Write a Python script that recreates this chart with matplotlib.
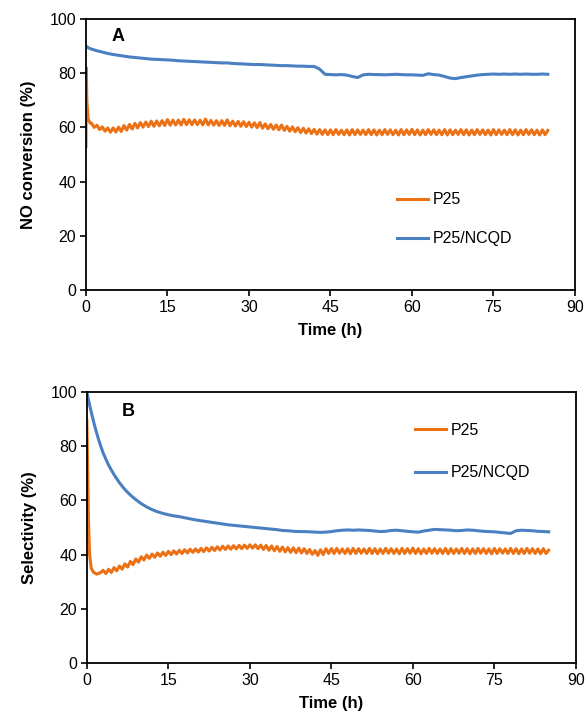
import matplotlib.pyplot as plt
import numpy as np

plt.rcParams['font.family'] = ['Liberation Sans', 'DejaVu Sans']

# 色
c_p25 = '#EC7014'
c_ncqd = '#4A7FC1'

# --- (A) NO conversion ---
# P25: start-up spike, then 0.5 h samples from t = 1 h
a_p25_head_t = [0, 0.05, 0.15, 0.4, 0.8]
a_p25_head_v = [53, 82, 70, 63, 61.5]
a_p25_body_t0 = 1.0
a_p25_body = [
    61.6, 60.0, 60.8, 59.2, 60.2, 58.6, 59.8, 58.2, 59.8, 58.3,
    60.1, 58.5, 60.7, 59.0, 61.1, 59.4, 61.5, 59.8, 61.8, 60.1,
    62.0, 60.3, 62.3, 60.4, 62.4, 60.6, 62.5, 60.7, 62.9, 60.8,
    62.7, 60.9, 62.7, 60.9, 63.0, 61.0, 62.8, 61.0, 62.8, 61.0,
    62.7, 60.9, 63.1, 60.9, 62.6, 60.8, 62.5, 60.7, 62.5, 60.7,
    62.8, 60.6, 62.3, 60.5, 62.2, 60.4, 62.1, 60.3, 61.9, 60.1,
    61.7, 59.9, 61.8, 59.7, 61.3, 59.5, 61.1, 59.3, 60.9, 59.1,
    60.9, 58.9, 60.4, 58.6, 60.2, 58.4, 59.9, 58.1, 59.7, 57.9,
    59.5, 57.7, 59.3, 57.5, 59.2, 57.4, 59.1, 57.3,
    59.1, 57.3, 59.2, 57.4, 59.0, 57.3, 59.1, 57.2, 59.2, 57.3,
    59.1, 57.4, 59.0, 57.3, 59.2, 57.3, 59.1, 57.2, 59.0, 57.3,
    59.2, 57.4, 59.1, 57.3, 59.0, 57.2, 59.2, 57.3, 59.1, 57.4,
    59.3, 57.3, 59.1, 57.2, 59.0, 57.3, 59.2, 57.4, 59.1, 57.3,
    59.0, 57.3, 59.2, 57.2, 59.1, 57.3, 59.0, 57.4, 59.2, 57.3,
    59.1, 57.2, 59.0, 57.3, 59.2, 57.4, 59.1, 57.3, 59.0, 57.2,
    59.2, 57.3, 59.1, 57.4, 59.0, 57.3, 59.2, 57.3, 59.1, 57.2,
    59.0, 57.3, 59.2, 57.4, 59.1, 57.3, 59.0, 57.2, 59.1, 57.3,
    58.9,
]

# P25/NCQD: hourly
a_ncqd_head_t = [0, 0.5]
a_ncqd_head_v = [90.0, 89.3]
a_ncqd_body_t0 = 1.0
a_ncqd_body = [
    88.9, 88.3, 87.8, 87.3, 86.9, 86.6, 86.3, 86.0, 85.8, 85.6,
    85.4, 85.2, 85.1, 85.0, 84.9, 84.8, 84.6, 84.5, 84.4, 84.3,
    84.2, 84.1, 84.0, 83.9, 83.8, 83.8, 83.6, 83.5, 83.4, 83.3,
    83.2, 83.2, 83.1, 83.0, 82.9, 82.8, 82.8, 82.7, 82.6, 82.6,
    82.5, 82.5, 81.5, 79.6, 79.5, 79.4, 79.5, 79.3, 78.8, 78.4,
    79.4, 79.6, 79.5, 79.5, 79.4, 79.5, 79.6, 79.5, 79.4, 79.4,
    79.3, 79.2, 79.8, 79.5, 79.3, 78.8, 78.2, 78.0, 78.4, 78.7,
    79.0, 79.3, 79.5, 79.6, 79.7, 79.6, 79.7, 79.6, 79.7, 79.6,
    79.7, 79.6, 79.6, 79.7, 79.6,
]

# --- (B) Selectivity ---
b_p25_head_t = [0, 0.15, 0.3, 0.5, 0.8, 1.2, 1.8, 2.5]
b_p25_head_v = [89.5, 70, 52, 40, 35, 33.5, 32.8, 33.3]
b_p25_body_t0 = 3.0
b_p25_body = [
    34.2, 33.0, 34.6, 33.4, 35.2, 34.0, 35.8, 34.6, 36.6, 35.4,
    37.5, 36.3, 38.4, 37.2, 39.2, 38.0, 39.8, 38.6, 40.2, 39.0,
    40.6, 39.4, 40.9, 39.7, 41.2, 40.0, 41.4, 40.2, 41.6, 40.4,
    41.8, 40.6, 42.0, 40.8, 42.1, 40.9, 42.3, 41.1, 42.5, 41.3,
    42.7, 41.5, 42.9, 41.7, 43.1, 41.9, 43.2, 42.0, 43.3, 42.1,
    43.4, 42.2, 43.5, 42.3, 43.6, 42.4, 43.6, 42.2, 43.5, 41.9,
    43.4, 41.6, 43.2, 41.4, 43.0, 41.2, 42.8, 41.0, 42.6, 40.8,
    42.5, 40.7, 42.4, 40.6, 42.2, 40.4, 41.9, 40.1, 41.5, 39.7,
    41.8, 40.0, 42.2, 40.4,
    42.2, 40.4, 42.3, 40.5, 42.1, 40.4, 42.2, 40.3, 42.3, 40.4,
    42.2, 40.5, 42.1, 40.4, 42.3, 40.4, 42.2, 40.3, 42.1, 40.4,
    42.3, 40.5, 42.2, 40.4, 42.1, 40.3, 42.3, 40.4, 42.2, 40.5,
    42.4, 40.4, 42.2, 40.3, 42.1, 40.4, 42.3, 40.5, 42.2, 40.4,
    42.1, 40.4, 42.3, 40.3, 42.2, 40.4, 42.1, 40.5, 42.3, 40.4,
    42.2, 40.3, 42.1, 40.4, 42.3, 40.5, 42.2, 40.4, 42.1, 40.3,
    42.3, 40.4, 42.2, 40.5, 42.1, 40.4, 42.3, 40.4, 42.2, 40.3,
    42.1, 40.4, 42.3, 40.5, 42.2, 40.4, 42.1, 40.3, 42.2, 40.4,
    41.6,
]

b_ncqd_head_t = [0, 0.3, 0.7, 1.0, 1.5, 2.0, 2.5, 3.0, 3.5]
b_ncqd_head_v = [100, 97, 93.5, 91, 87, 83.5, 80.3, 77.5, 75.2]
b_ncqd_body_t0 = 4.0
b_ncqd_body = [
    73.0, 69.5, 66.5, 64.0, 62.0, 60.3, 58.8, 57.6, 56.6, 55.8,
    55.2, 54.7, 54.3, 54.0, 53.6, 53.2, 52.8, 52.5, 52.2, 51.9,
    51.6, 51.3, 51.0, 50.8, 50.6, 50.4, 50.2, 50.0, 49.8, 49.6,
    49.4, 49.2, 48.9, 48.8, 48.6, 48.5, 48.5, 48.4, 48.3, 48.2,
    48.3, 48.5, 48.8, 49.0, 49.1, 49.0, 49.1, 49.0, 48.9, 48.7,
    48.5, 48.6, 48.9, 49.0, 48.8, 48.6, 48.4, 48.3, 48.7, 49.0,
    49.3, 49.2, 49.1, 49.0, 48.8, 48.9, 49.1, 49.0, 48.8, 48.6,
    48.5, 48.4, 48.2, 48.0, 47.8, 48.8, 49.0, 48.9, 48.8, 48.6,
    48.5, 48.4,
]

labels = ['P25', 'P25/NCQD']
x_ticks = [0, 15, 30, 45, 60, 75, 90]
y_ticks = [0, 20, 40, 60, 80, 100]


def series(head_t, head_v, t0, body, step):
    t = list(head_t) + list(t0 + step * np.arange(len(body)))
    return t, list(head_v) + list(body)


fig = plt.figure(figsize=(5.87, 7.23), dpi=100)
ax1 = fig.add_axes([0.1465, 0.5989, 0.833, 0.3748])
ax2 = fig.add_axes([0.148, 0.083, 0.833, 0.3748])

panels = [
    (ax1, 'A', 'NO conversion (%)',
     series(a_p25_head_t, a_p25_head_v, a_p25_body_t0, a_p25_body, 0.5),
     series(a_ncqd_head_t, a_ncqd_head_v, a_ncqd_body_t0, a_ncqd_body, 1.0),
     (5.9, 93.7), (0.62, 0.39), 1.5),
    (ax2, 'B', 'Selectivity (%)',
     series(b_p25_head_t, b_p25_head_v, b_p25_body_t0, b_p25_body, 0.5),
     series(b_ncqd_head_t, b_ncqd_head_v, b_ncqd_body_t0, b_ncqd_body, 1.0),
     (7.6, 92.7), (0.654, 0.915), 1.7),
]

for ax, tag, ylab, p25, ncqd, tag_pos, leg_pos, lsp in panels:
    ax.plot(p25[0], p25[1], color=c_p25, lw=2.2, label=labels[0])
    ax.plot(ncqd[0], ncqd[1], color=c_ncqd, lw=2.2, label=labels[1])
    ax.set_xlim(0, 90)
    ax.set_ylim(0, 100)
    ax.set_xticks(x_ticks)
    ax.set_yticks(y_ticks)
    ax.tick_params(direction='out', length=4, width=1.2, labelsize=11.5, pad=3)
    for s in ax.spines.values():
        s.set_linewidth(1.3)
    ax.set_xlabel('Time (h)', fontsize=12, fontweight='bold', labelpad=6)
    ax.set_ylabel(ylab, fontsize=12, fontweight='bold', labelpad=10)
    ax.text(tag_pos[0], tag_pos[1], tag, fontsize=13, fontweight='bold',
            ha='center', va='center')
    ax.legend(loc='upper left', bbox_to_anchor=leg_pos, frameon=False,
              fontsize=11.5, handlelength=1.95, handletextpad=0.3,
              labelspacing=lsp, borderpad=0)

fig.savefig('out.png', dpi=100)
